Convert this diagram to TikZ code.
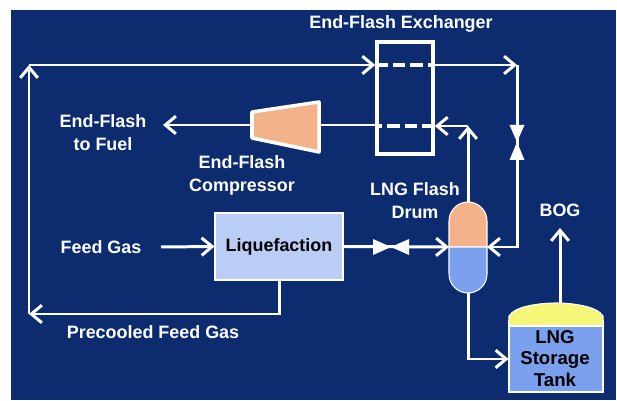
\documentclass[tikz,border=0pt]{standalone}
\usepackage{fontspec}
\setmainfont{Liberation Sans}
\usetikzlibrary{arrows.meta}
\definecolor{bgblue}{RGB}{13,44,112}
\definecolor{orangefill}{RGB}{244,178,138}
\definecolor{lngblue}{RGB}{122,160,238}
\definecolor{boxblue}{RGB}{186,205,245}
\definecolor{bogyellow}{RGB}{246,246,120}
\tikzset{
  lbl/.style={text=white,font=\bfseries\fontsize{10.2}{12.2}\selectfont,align=center,inner sep=0pt},
  unitbox/.style={lbl,text=black,draw=white,line width=0.6pt},
  flow/.style={draw=white,line width=1.7pt,-{Straight Barb[length=6pt,width=10pt,line width=1.7pt]}},
  pipe/.style={draw=white,line width=1.7pt},
  tubedash/.style={draw=white,line width=2.2pt,dash pattern=on 7pt off 3pt},
  shell/.style={draw=white,line width=0.6pt}
}
\begin{document}
\begin{tikzpicture}[x=0.02cm,y=-0.02cm]
\useasboundingbox (0,0) rectangle (617,401);
\fill[white] (0,0) rectangle (617,401);
\fill[bgblue] (11,10) rectangle (616,400);
\coordinate (topLeft) at (29,65);
\coordinate (botLeft) at (29,314);
\coordinate (topRight) at (517,65);
\coordinate (fuelEnd) at (163,125);
\coordinate (feedStart) at (161,247);
\coordinate (bogEnd) at (560,228);
\coordinate (drumTop) at (468,202);
\coordinate (drumBot) at (468,293);
\coordinate (drumLeft) at (449,247);
\coordinate (drumRight) at (487,247);
\coordinate (drumCorner) at (468,126);
\coordinate (tankTop) at (560,304);
\coordinate (compLeft) at (252,125);
\coordinate (compRight) at (319,125);
\coordinate (valveA) at (391,247);
\coordinate (valveB) at (517,142);
% labels
\node[lbl] (exchangerLabel) at (401,24) {End-Flash Exchanger};
\node[lbl] (fuelLabel) at (103,133) {End-Flash\\[1pt]to Fuel};
\node[lbl] (compressorLabel) at (242,175) {End-Flash\\[1pt]Compressor};
\node[lbl] (feedLabel) at (101,247) {Feed Gas};
\node[lbl] (precooledLabel) at (153,332) {Precooled Feed Gas};
\node[lbl] (drumLabel) at (415,201) {LNG Flash\\[1pt]Drum};
\node[lbl] (bogLabel) at (560,210) {BOG};
% units
\node[unitbox,fill=boxblue,minimum width=2.56cm,minimum height=1.34cm] (liquefaction) at (279,246.5) {Liquefaction};
\node[draw=white,line width=2pt,minimum width=1.12cm,minimum height=2.24cm,inner sep=0pt] (exchanger) at (405,98) {};
\node[unitbox,fill=lngblue,minimum width=1.88cm,minimum height=1.32cm,align=center] (tank) at (556,359) {};
% lines
\draw[flow] (liquefaction.south) |- (botLeft);
\draw[flow] (botLeft) -- (topLeft);
\draw[flow] (topLeft) -- (exchanger.west |- topLeft);
\draw[tubedash] (exchanger.west |- topRight) -- (exchanger.east |- topRight);
\draw[flow] (exchanger.east |- topRight) -- (topRight);
\draw[flow] (topRight) |- (drumRight);
\draw[flow] (liquefaction.east) -- (drumLeft);
\draw[flow] (feedStart) -- (liquefaction.west);
\draw[flow] (drumTop) -- (drumCorner);
\draw[flow] (drumCorner) -- (exchanger.east |- drumCorner);
\draw[tubedash] (exchanger.east |- drumCorner) -- (exchanger.west |- drumCorner);
\draw[pipe] (exchanger.west |- compRight) -- (compRight);
\draw[flow] (compLeft) -- (fuelEnd);
\draw[flow] (drumBot) |- (tank.west);
\draw[flow] (tankTop) -- (bogEnd);
% compressor
\draw[draw=white,line width=2pt,fill=orangefill,line join=round] (252,112) -- (319,102) -- (319,152) -- (252,138) -- cycle;
% valves
\fill[white] (valveA) -- ++(-18,-8) -- ++(0,16) -- cycle;
\fill[white] (valveA) -- ++(18,-8) -- ++(0,16) -- cycle;
\fill[white] (valveB) -- ++(-7.5,-17) -- ++(15,0) -- cycle;
\fill[white] (valveB) -- ++(-7.5,18) -- ++(15,0) -- cycle;
% drum
\draw[shell,fill=orangefill] (drumLeft) -- (449,221) arc (180:360:19) -- (drumRight) -- cycle;
\draw[shell,fill=lngblue] (drumLeft) -- (449,274) arc (180:0:19) -- (drumRight) -- cycle;
% tank top
\draw[shell,fill=bogyellow] (tank.north west) -- (509,316) .. controls (515,306) and (540,303) .. (556,303)
  .. controls (572,303) and (597,306) .. (603,316) -- (tank.north east) -- cycle;
\node[lbl,text=black,font=\bfseries\fontsize{10.6}{12.2}\selectfont] (tankLabel) at (555,358.5) {LNG\\Storage\\Tank};
\end{tikzpicture}
\end{document}
